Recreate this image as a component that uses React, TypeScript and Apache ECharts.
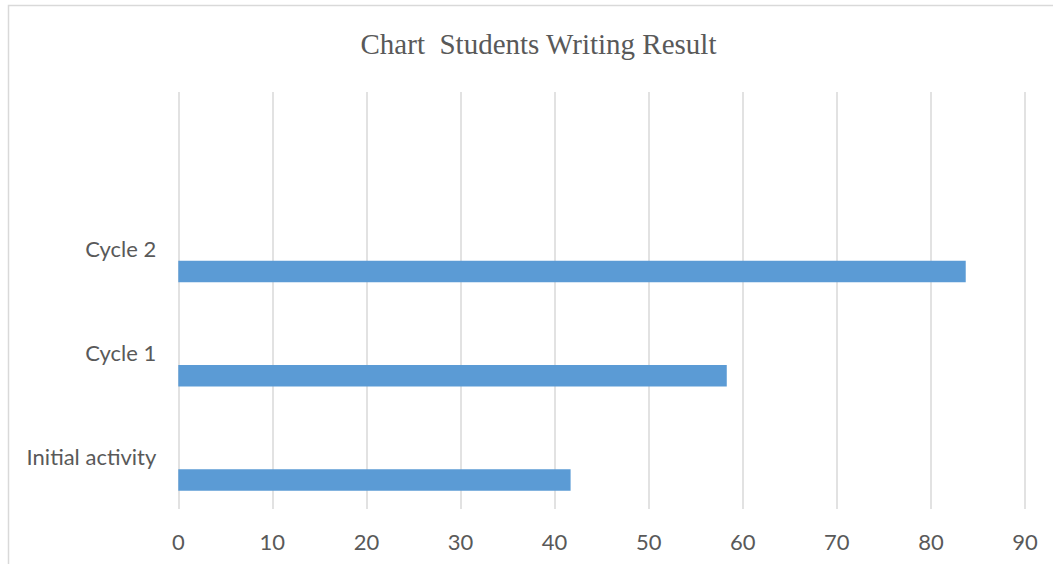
import React, { useEffect, useRef } from "react";
import * as echarts from "echarts";

const categories = ["Initial activity", "Cycle 1", "Cycle 2", ""];
const scores = [41.7, 58.3, 83.7, null];
const emptySeries = [null, null, null, null];
const titleText = "Chart  Students Writing Result";

export default function App() {
  const ref = useRef<HTMLDivElement>(null);
  useEffect(() => {
    if (!ref.current) return;
    const chart = echarts.init(ref.current, undefined, { renderer: "svg" });
    chart.setOption({
      animation: false,
      backgroundColor: "#ffffff",
      graphic: [
        {
          type: "rect",
          shape: { x: 8.5, y: 5.5, width: 1100, height: 600 },
          style: { fill: "none", stroke: "#d9d9d9", lineWidth: 1.5 },
          silent: true,
          z: -1,
        },
        {
          type: "text",
          x: 538.5,
          y: 44,
          style: {
            text: titleText,
            fontFamily: "Liberation Serif",
            fontSize: 29,
            fill: "#595959",
            textAlign: "center",
            textVerticalAlign: "middle",
          },
        },
      ],
      grid: { left: 178.3, right: 28, top: 92, bottom: 55, containLabel: false },
      xAxis: {
        type: "value",
        min: 0,
        max: 90,
        interval: 10,
        axisLine: { show: false },
        axisTick: { show: false },
        splitLine: { show: true, lineStyle: { color: "#d9d9d9", width: 1.5 } },
        axisLabel: {
          color: "#595959",
          fontFamily: "Lato",
          fontSize: 22,
          margin: 21,
        },
      },
      yAxis: {
        type: "category",
        data: categories,
        axisLine: { show: false },
        axisTick: { show: false },
        splitLine: { show: false },
        axisLabel: {
          color: "#595959",
          fontFamily: "Lato",
          fontSize: 22,
          margin: 22,
        },
      },
      series: [
        {
          type: "bar",
          data: emptySeries,
          barWidth: 21.5,
          barGap: "114%",
          itemStyle: { color: "#5b9bd5" },
        },
        {
          type: "bar",
          data: scores,
          barWidth: 21.5,
          barGap: "114%",
          itemStyle: { color: "#5b9bd5" },
        },
      ],
    });
    return () => chart.dispose();
  }, []);
  return (
    <div
      ref={ref}
      style={{ position: "absolute", left: 0, top: 0, width: 1053, height: 564 }}
    />
  );
}
